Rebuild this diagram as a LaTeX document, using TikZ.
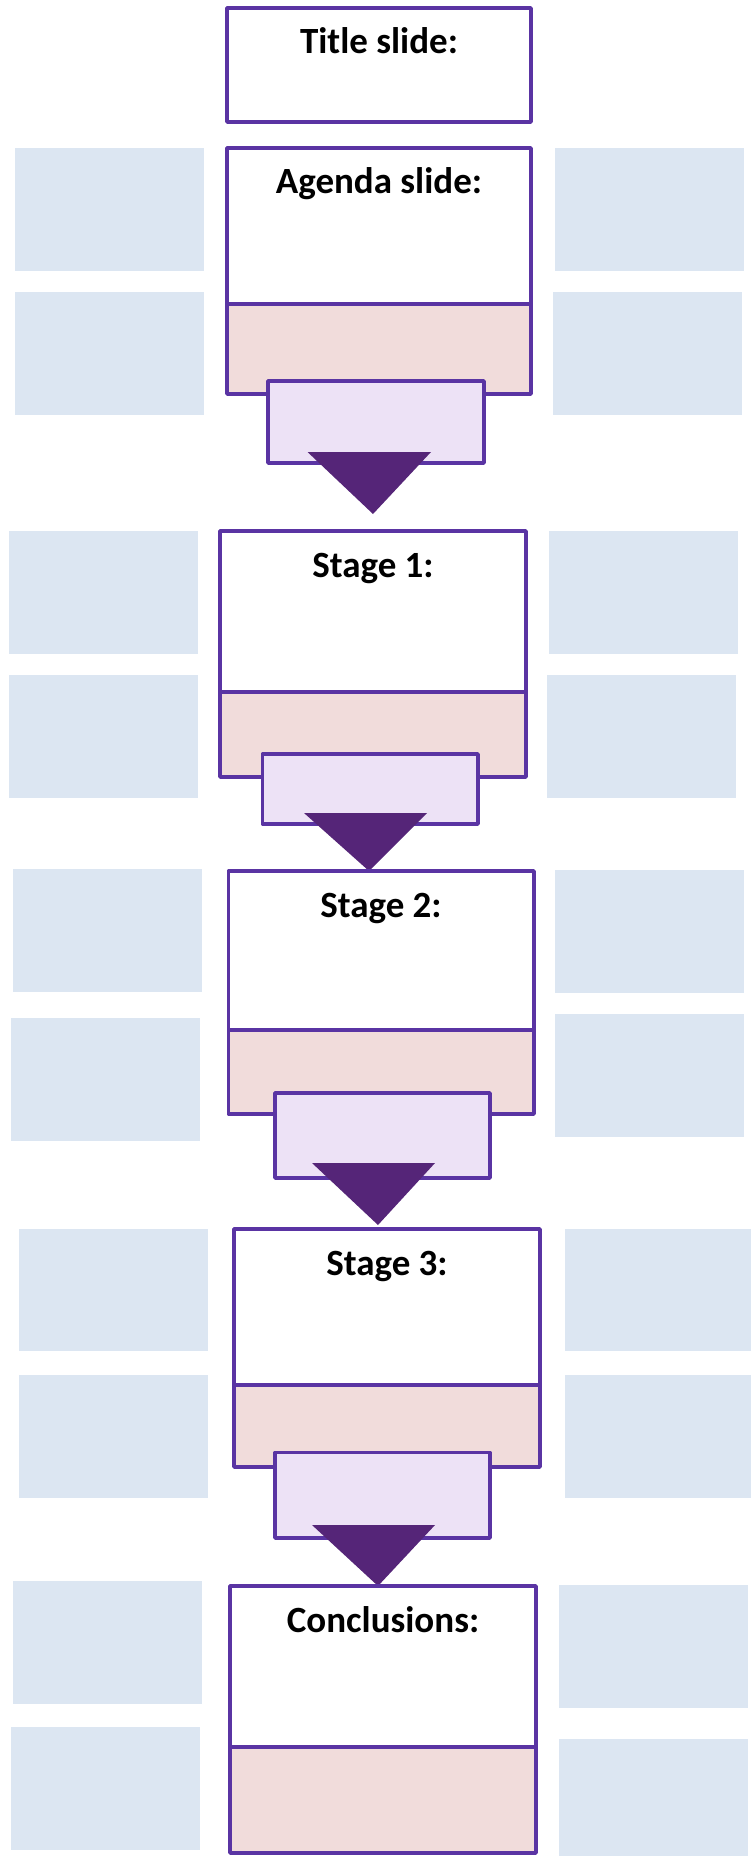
\documentclass[tikz,border=0pt]{standalone}
\usepackage{fontspec}
\setmainfont{Carlito}
\definecolor{slideline}{RGB}{90,52,163}
\definecolor{arrowfill}{RGB}{85,37,120}
\definecolor{notebox}{RGB}{220,230,242}
\definecolor{resultbox}{RGB}{241,220,219}
\definecolor{linkbox}{RGB}{237,226,246}
\tikzset{
  frame/.style={draw=slideline, line width=1.8pt, line join=round},
  note/.style={fill=notebox},
  heading/.style={anchor=base, font=\fontsize{18.5}{22}\selectfont\bfseries},
  down/.style={fill=arrowfill}
}
\begin{document}
\begin{tikzpicture}[x=0.5pt, y=-0.5pt]
     \useasboundingbox (0,0) rectangle (751,1856);
     % side notes
     \fill[note] (15,148) rectangle (204,271);
     \fill[note] (15,292) rectangle (204,415);
     \fill[note] (555,148) rectangle (744,271);
     \fill[note] (553,292) rectangle (742,415);
     \fill[note] (9,531) rectangle (198,654);
     \fill[note] (9,675) rectangle (198,798);
     \fill[note] (549,531) rectangle (738,654);
     \fill[note] (547,675) rectangle (736,798);
     \fill[note] (13,869) rectangle (202,992);
     \fill[note] (11,1018) rectangle (200,1141);
     \fill[note] (555,870) rectangle (744,993);
     \fill[note] (555,1014) rectangle (744,1137);
     \fill[note] (19,1229) rectangle (208,1351);
     \fill[note] (19,1375) rectangle (208,1498);
     \fill[note] (565,1229) rectangle (751,1351);
     \fill[note] (565,1375) rectangle (751,1498);
     \fill[note] (13,1581) rectangle (202,1704);
     \fill[note] (11,1727) rectangle (200,1850);
     \fill[note] (559,1585) rectangle (748,1708);
     \fill[note] (559,1739) rectangle (748,1856);
     % title slide
     \draw[frame, fill=white] (227,8) rectangle (531,122);
     \node[heading] (title) at (379,54) {Title slide:};
     % agenda slide
     \draw[frame, fill=white] (227,148) rectangle (531,304);
     \draw[frame, fill=resultbox] (227,304) rectangle (531,394);
     \node[heading] (agenda) at (379,194) {Agenda slide:};
     \draw[frame, fill=linkbox] (268,381) rectangle (484,463);
     \fill[down] (307.5,452)--(431,452)--(373,514)--cycle;
     % stage 1
     \draw[frame, fill=white] (220,531) rectangle (526,692);
     \draw[frame, fill=resultbox] (220,692) rectangle (526,777);
     \node[heading] (stage1) at (373,577) {Stage 1:};
     \draw[frame, fill=linkbox] (262.5,754) rectangle (478,824);
     \fill[down] (304,813)--(427,813)--(369,871)--cycle;
     % stage 2
     \draw[frame, fill=white] (228.5,871) rectangle (534,1030);
     \draw[frame, fill=resultbox] (228.5,1030) rectangle (534,1114);
     \node[heading] (stage2) at (381,917) {Stage 2:};
     \draw[frame, fill=linkbox] (275,1093) rectangle (490,1178);
     \fill[down] (312,1163)--(435,1163)--(378,1225)--cycle;
     % stage 3
     \draw[frame, fill=white] (234,1229) rectangle (540,1385);
     \draw[frame, fill=resultbox] (234,1385) rectangle (540,1467);
     \node[heading] (stage3) at (387,1275) {Stage 3:};
     \draw[frame, fill=linkbox] (275,1452.5) rectangle (490,1538);
     \fill[down] (312,1525)--(435,1525)--(378,1586)--cycle;
     % conclusions
     \draw[frame, fill=white] (230,1586) rectangle (536,1747);
     \draw[frame, fill=resultbox] (230,1747) rectangle (536,1853);
     \node[heading] (conclusions) at (383,1632) {Conclusions:};
\end{tikzpicture}
\end{document}
